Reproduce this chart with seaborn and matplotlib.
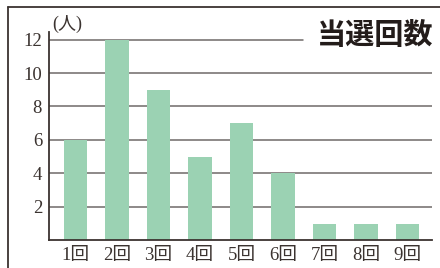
import matplotlib
matplotlib.use("Agg")
import matplotlib.pyplot as plt
from matplotlib.lines import Line2D
import pandas as pd
import seaborn as sns

# data
labels = ["1回", "2回", "3回", "4回", "5回", "6回", "7回", "8回", "9回"]
counts = [6, 12, 9, 5, 7, 4, 1, 1, 1]
yticks = [2, 4, 6, 8, 10, 12]

sns.set_theme(style="white")
plt.rcParams["font.family"] = ["Liberation Serif", "Noto Sans CJK JP"]

ink = "#3b3330"
bar_color = "#9bd2b3"
grid_color = "#6f6a68"

df = pd.DataFrame({"label": labels, "count": counts})

fig = plt.figure(figsize=(4.4, 2.68), dpi=100)
fig.set_facecolor("white")
ax = fig.add_axes([0.1114, 0.103, 0.8705, 0.7776])

# grid lines (the top one stops short of the title)
for t in yticks:
    xmax = 0.663 if t == 12 else 1.0
    ax.axhline(t, xmin=0, xmax=xmax, color=grid_color, lw=1.1, zorder=0)

sns.barplot(data=df, x="label", y="count", color=bar_color, width=0.56,
            saturation=1, linewidth=0, edgecolor="none", ax=ax, zorder=2)

ax.set_xlim(-0.64, 8.59)
ax.set_ylim(0, 12.45)
ax.set_yticks(yticks)
ax.set_xlabel("")
ax.set_ylabel("")
ax.tick_params(axis="both", length=0, colors=ink, labelsize=13.5)
ax.tick_params(axis="x", pad=5)
ax.tick_params(axis="y", pad=5)

for side in ["top", "right"]:
    ax.spines[side].set_visible(False)
for side in ["left", "bottom"]:
    ax.spines[side].set_color(ink)
    ax.spines[side].set_linewidth(1.3)

# unit and title
fig.text(52 / 440, 1 - 24 / 268, "(人)", fontsize=13, color=ink,
         ha="left", va="center", family=["Liberation Serif", "Noto Sans CJK JP"])
fig.text(433 / 440, 1 - 35 / 268, "当選回数", fontsize=21, color="#231c1a",
         fontweight="bold", ha="right", va="center", family=["Noto Sans CJK JP"])

# page frame (top and left edges)
fig.add_artist(Line2D([8 / 440, 1], [1 - 7 / 268, 1 - 7 / 268],
                      color=ink, lw=1.3, transform=fig.transFigure))
fig.add_artist(Line2D([8 / 440, 8 / 440], [0, 1 - 7 / 268],
                      color=ink, lw=1.3, transform=fig.transFigure))

fig.savefig("out.png", dpi=100, facecolor="white")
